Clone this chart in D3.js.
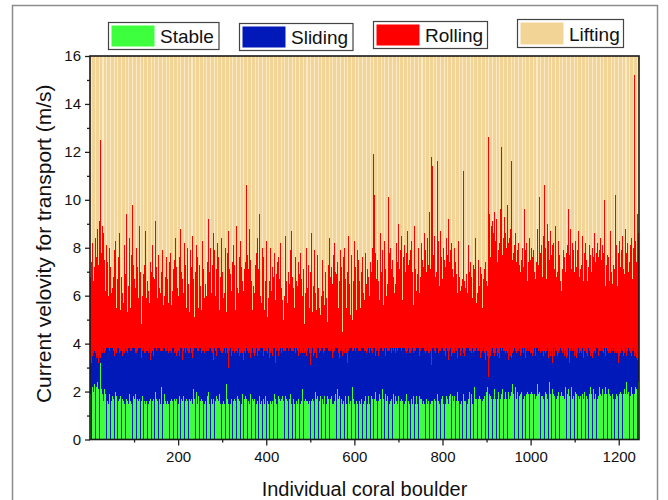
<!DOCTYPE html>
<html><head><meta charset="utf-8">
<script src="https://cdn.jsdelivr.net/npm/d3@7"></script>
<style>body{margin:0;background:#fff}svg{display:block}</style>
</head><body>
<svg id="chart" width="668" height="500"></svg>
<script>
// ---------------- DATA ----------------
const seriesNames = ["Stable", "Sliding", "Rolling", "Lifting"];
const xDomain = [0, 1246];
const yMax = 16;                 // lifting range runs to the top of the axis
const xTickValues = [200, 400, 600, 800, 1000, 1200];
const xMinorTicks = [100, 300, 500, 700, 900, 1100];
const yTickValues = [0, 2, 4, 6, 8, 10, 12, 14, 16];
const yMinorTicks = [1, 3, 5, 7, 9, 11, 13, 15];

// upper velocity limit of the "Rolling" band per boulder (m/s)
const rollingTop = [
6.8,5.9,7.4,6.1,8.2,5.4,7.9,6.6,10.5,7.2,6.3,8.4,5.8,10.4,7.6,6.9,8.8,11.0,7.3,6.2,9.1,7.7,8.3,12.5,6.5,
7.8,6.4,8.9,7.1,5.9,8.6,6.8,7.5,9.0,6.2,7.0,5.6,8.1,6.7,7.4,9.2,6.0,7.7,5.3,8.0,6.6,7.2,11.0,6.1,5.7,
6.3,7.0,5.1,6.8,7.9,5.8,6.4,8.3,6.0,5.5,7.3,6.7,4.9,6.2,7.6,5.9,8.6,6.5,5.4,7.1,6.8,5.2,7.4,6.1,6.9,
5.7,7.2,6.3,8.1,5.6,6.9,7.5,9.4,6.0,5.3,7.8,6.4,5.9,8.4,6.6,7.0,5.5,6.2,7.7,6.8,9.8,5.8,6.5,7.3,5.1,
6.7,7.9,5.6,6.3,8.0,6.1,5.4,7.2,6.8,5.9,7.6,8.9,6.2,5.7,7.0,6.5,4.8,7.4,6.0,8.2,5.8,6.9,7.3,5.5,6.4,
8.7,6.1,5.9,7.1,6.6,5.3,7.8,6.2,8.5,5.7,6.9,7.4,5.0,6.3,7.0,6.0,8.1,5.6,6.8,7.5,5.4,6.7,9.1,6.2,5.8,
7.2,6.4,5.9,9.6,6.9,7.7,5.5,6.3,8.0,6.1,5.2,7.0,6.6,5.8,7.9,6.4,5.6,8.3,6.0,7.3,5.9,6.8,5.4,7.6,6.2,
6.7,8.6,5.7,6.1,7.4,5.3,6.9,7.8,6.4,5.6,8.1,6.2,5.8,7.1,6.5,4.9,7.5,6.0,8.4,5.5,6.8,7.2,6.3,5.7,7.9,
6.0,5.4,7.6,6.6,8.8,5.9,6.3,7.0,5.2,6.7,7.7,6.1,5.6,8.2,6.4,5.8,7.3,6.9,5.5,7.1,6.2,8.0,5.7,6.5,7.4,
5.3,6.8,7.9,6.0,5.6,7.2,6.4,8.5,5.9,6.7,7.5,5.1,6.3,7.0,6.1,8.1,5.7,6.9,7.6,6.2,5.5,10.6,6.6,7.3,5.8,
6.4,7.8,5.4,6.1,8.3,6.9,5.7,7.1,6.3,5.9,7.7,6.5,8.8,5.6,6.0,7.4,6.8,5.3,9.2,6.2,7.0,5.8,8.0,6.6,7.5,
6.1,5.5,7.3,6.7,8.6,5.9,6.4,7.9,9.8,6.0,5.2,7.1,6.6,8.2,5.7,6.9,7.6,6.2,5.4,7.4,6.8,5.8,8.4,6.3,7.0,
6.5,10.6,5.9,7.2,6.1,5.6,8.0,6.7,7.5,5.3,6.3,7.8,6.0,5.8,8.7,6.6,7.1,5.5,6.9,7.7,6.2,5.1,7.4,6.4,8.1,
5.7,6.8,7.3,6.0,5.4,7.9,6.5,8.9,5.8,6.3,7.0,6.1,5.6,7.6,6.7,8.3,5.9,6.4,7.2,5.2,6.6,7.8,6.2,5.5,7.1,
6.9,5.8,7.4,6.3,10.6,6.0,7.7,5.6,6.5,7.1,5.3,8.8,6.8,6.2,7.5,5.9,6.6,8.2,5.4,7.0,6.4,7.9,5.7,6.1,7.3,
6.7,5.5,7.8,6.2,8.4,5.9,7.1,6.5,5.2,9.4,6.8,6.0,7.4,5.7,6.3,8.0,5.6,6.9,7.6,6.1,5.4,7.2,6.6,5.8,8.3,
5.6,6.4,5.1,7.0,5.9,4.4,6.6,5.4,7.5,8.0,5.7,6.2,4.9,7.2,5.5,6.8,5.3,6.0,7.8,9.4,5.8,6.5,5.0,6.9,7.4,
5.2,6.1,7.6,5.6,6.7,4.7,5.9,8.2,6.3,5.4,7.1,5.8,6.4,5.0,7.7,6.0,5.5,6.8,8.5,5.3,6.6,7.3,5.7,4.5,6.2,
7.0,5.6,6.5,5.1,7.9,6.1,5.4,8.7,6.8,5.8,4.3,6.3,7.2,5.5,6.0,7.6,5.2,6.6,5.9,9.8,6.4,5.7,7.4,5.0,6.9,
5.3,7.8,6.2,5.6,6.7,8.3,5.1,6.0,7.1,5.7,6.5,4.8,7.5,6.1,5.4,6.9,8.0,5.8,6.3,5.2,7.3,6.6,5.5,4.6,7.0,
6.2,5.7,8.6,6.0,5.3,7.2,6.4,5.0,6.8,7.9,5.6,6.1,7.4,5.4,6.6,4.4,7.7,5.9,6.3,8.1,5.5,6.9,5.2,7.1,6.0,
5.8,7.5,6.5,5.1,6.2,8.8,5.6,6.7,7.0,5.4,6.3,5.9,7.8,4.9,6.6,7.3,5.7,6.1,8.4,5.5,6.8,5.0,7.2,6.4,5.9,
6.5,7.7,5.3,6.0,8.2,5.6,7.0,6.3,5.2,6.9,5.8,7.4,6.1,5.5,10.0,6.6,5.1,7.9,6.2,5.7,7.2,6.4,4.5,6.8,7.6,
5.4,6.1,8.0,5.9,6.7,7.3,5.5,6.3,4.9,7.0,6.0,8.5,5.6,6.5,7.1,5.2,6.9,7.7,5.8,6.2,5.0,7.4,6.6,5.3,8.3,
6.4,5.7,7.2,6.0,5.4,6.8,7.9,5.1,6.3,7.5,5.9,6.6,8.1,5.5,6.2,7.0,4.6,6.7,7.6,5.6,6.1,7.3,5.8,6.9,5.2,
7.8,6.5,5.7,6.2,7.1,5.4,6.8,8.4,6.0,5.9,7.4,6.3,5.5,7.0,6.6,8.0,7.3,11.9,7.6,8.3,10.2,6.9,7.8,7.2,6.7,
6.4,7.5,6.9,8.1,6.6,7.2,5.8,7.7,6.5,8.6,6.8,7.0,6.2,7.9,6.7,5.6,7.4,8.3,6.3,7.1,6.9,7.6,6.0,8.8,6.5,
7.3,10.1,6.7,6.2,7.8,6.9,8.0,6.4,7.1,5.9,7.5,6.6,8.4,6.8,7.2,6.1,7.7,6.5,5.5,7.0,8.2,6.7,7.4,6.3,9.0,
6.8,7.1,6.4,7.9,6.0,7.4,8.5,6.6,5.8,7.2,6.9,7.6,6.2,8.1,6.5,7.0,5.7,7.8,6.7,6.3,8.7,6.9,7.3,6.1,7.5,
6.6,7.9,6.3,7.2,8.3,6.0,7.0,6.8,5.6,7.6,6.4,8.9,7.1,6.5,7.3,6.2,7.8,5.9,6.9,8.0,7.4,6.7,6.1,7.7,6.8,
7.1,6.5,8.2,6.9,7.5,6.3,7.2,5.8,8.6,6.7,7.9,6.4,7.0,6.1,7.6,8.4,6.8,7.3,6.0,9.5,6.6,7.8,7.1,8.8,11.8,
7.4,8.1,11.4,6.9,7.7,6.5,8.5,7.2,6.8,7.9,6.2,7.0,11.6,7.5,6.6,8.3,7.1,6.4,7.8,6.9,8.7,6.3,7.6,7.0,6.7,
7.3,8.0,6.8,7.5,6.1,10.6,7.2,6.6,8.4,7.0,6.5,7.7,6.2,9.2,6.9,7.4,6.0,7.9,6.7,8.2,6.4,7.1,5.9,7.6,6.8,
7.2,6.6,8.0,6.3,7.4,5.8,6.9,7.7,6.1,7.0,6.5,8.3,6.8,5.7,7.3,6.2,7.5,6.4,7.1,5.9,6.7,11.2,6.0,7.8,6.6,
11.1,6.3,7.2,5.6,6.9,7.6,6.1,6.7,8.1,5.8,7.0,6.4,5.5,7.4,6.2,6.8,7.9,5.9,6.5,7.3,6.0,5.4,7.1,6.6,8.4,
6.3,5.7,7.0,6.1,5.2,6.8,7.5,5.9,6.4,4.8,7.2,6.0,5.6,6.9,7.8,5.5,6.2,6.7,5.0,7.1,6.5,5.8,7.4,6.1,6.6,
7.0,6.4,8.2,12.6,10.5,8.8,9.4,8.1,7.6,12.2,8.9,7.8,8.4,9.1,7.5,8.6,8.0,9.5,7.9,8.3,7.7,8.7,9.2,8.1,7.4,
8.5,7.9,9.0,8.2,7.6,8.8,9.6,8.3,12.2,8.0,7.7,8.9,8.4,7.5,9.3,8.1,7.8,8.6,11.9,8.0,7.4,8.7,9.8,7.9,8.2,
7.6,8.4,8.0,7.3,8.8,11.6,7.9,8.3,7.5,9.1,7.8,10.2,8.1,7.2,8.6,7.7,8.0,7.4,9.4,7.9,7.1,8.2,7.6,8.5,7.3,
7.8,7.0,8.3,7.5,6.9,8.0,7.4,8.7,7.2,7.7,9.6,7.1,7.9,6.8,8.2,7.3,7.6,6.6,8.1,7.4,6.9,7.8,8.4,7.0,7.5,
7.2,8.0,12.5,7.6,6.8,7.9,7.3,8.6,7.0,7.5,6.7,8.2,7.4,7.1,8.8,7.7,6.9,7.3,8.4,10.1,7.0,7.8,6.6,7.5,8.1,
7.4,6.8,7.9,8.5,7.1,10.6,7.6,6.9,8.0,7.3,6.7,7.8,9.0,7.2,6.5,8.3,7.0,7.5,6.8,8.7,7.3,6.6,7.7,8.1,6.9,
7.5,8.2,6.7,7.1,7.8,6.4,8.9,7.2,6.8,7.6,7.0,6.5,8.3,7.4,6.9,7.7,8.6,6.6,7.3,6.2,8.0,7.1,6.8,7.9,7.4,
6.7,7.6,8.4,7.0,6.5,7.8,6.9,7.3,8.1,6.6,9.6,7.2,6.8,7.7,8.8,6.4,7.5,7.1,6.9,8.2,7.3,6.6,7.9,7.0,6.8,
7.6,8.3,6.9,7.2,6.4,7.9,7.0,8.7,6.7,7.4,6.8,7.7,7.1,8.0,6.5,7.3,6.9,8.5,7.6,6.6,7.1,7.8,6.3,8.2,7.0,
6.8,7.5,7.9,6.6,9.5,7.2,6.9,8.1,7.4,6.5,7.7,8.4,7.0,6.7,7.3,8.0,6.4,7.6,7.1,8.6,6.9,7.4,6.2,7.8,7.0,
7.3,8.2,6.7,7.6,7.0,6.5,7.9,8.4,6.8,7.2,7.5,6.9,8.1,7.4,6.6,7.8,7.1,10.0,7.0,6.4,8.3,7.3,6.8,7.7,7.1,
6.9,7.6,8.0,6.6,7.4,7.2,8.7,6.8,7.0,7.5,6.5,7.9,7.3,8.2,6.7,7.1,10.2,7.4,6.9,8.1,7.6,6.4,7.2,7.8,6.9,
7.5,8.3,6.8,7.2,6.6,7.9,7.0,8.5,6.7,7.4,7.1,8.0,6.9,7.6,8.8,6.5,7.3,7.8,6.9,8.2,9.1,7.0,7.6,6.8,7.4,
8.1,6.9,7.5,8.4,7.2,6.7,7.8,8.0,7.1,6.8,15.2,7.6,8.3,7.0,7.4,6.6,7.9,9.4,7.3,8.6
];

// upper velocity limit of the "Sliding" band per boulder (m/s)
const slidingTop = [
3.3,3.5,3.2,3.6,3.4,3.5,3.1,3.6,3.4,3.7,3.5,3.3,3.6,3.7,3.4,3.6,3.5,3.7,3.2,3.6,3.8,3.5,3.7,3.4,3.6,
3.7,3.8,3.6,3.7,3.5,3.8,3.7,3.6,3.8,3.7,3.4,3.8,3.7,3.6,3.8,3.7,3.8,3.5,3.7,3.8,3.6,3.8,3.7,3.8,3.7,
3.8,3.6,3.7,3.8,3.7,3.5,3.8,3.7,3.8,3.6,3.7,3.8,3.3,3.7,3.8,3.7,3.6,3.8,3.7,3.8,3.6,3.7,3.8,3.5,3.7,
3.7,3.8,3.6,3.8,3.7,3.8,3.4,3.7,3.8,3.6,3.7,3.8,3.7,3.6,3.8,3.5,3.7,3.8,3.7,3.6,3.8,3.7,3.2,3.8,3.7,
3.8,3.7,3.6,3.8,3.7,3.6,3.8,3.7,3.5,3.8,3.7,3.8,3.6,3.7,3.8,3.7,3.4,3.8,3.7,3.6,3.8,3.7,3.8,3.6,3.7,
3.6,3.8,3.7,3.8,3.5,3.7,3.8,3.6,3.7,3.8,3.7,3.3,3.8,3.7,3.6,3.8,3.7,3.8,3.5,3.7,3.8,3.6,3.7,3.8,3.7,
3.7,3.6,3.8,3.7,3.8,3.4,3.7,3.8,3.6,3.7,3.8,3.7,3.5,3.8,3.7,3.6,3.8,3.7,3.8,3.6,3.7,3.8,3.1,3.7,3.8,
3.8,3.7,3.6,3.8,3.7,3.8,3.5,3.7,3.8,3.6,3.7,3.8,3.7,3.4,3.8,3.7,3.6,3.8,3.7,3.8,3.5,3.7,3.8,3.6,3.7,
3.7,3.8,3.5,3.7,3.8,3.6,3.7,3.8,3.7,3.3,3.8,3.7,3.6,3.8,3.7,3.8,3.6,3.7,3.8,3.5,3.7,3.8,3.7,3.6,3.8,
3.6,3.7,3.8,3.7,3.6,3.8,3.7,3.4,3.8,3.7,3.6,3.8,3.7,3.8,3.5,3.7,3.8,3.6,3.7,3.8,3.7,3.2,3.8,3.7,3.6,
3.8,3.7,3.6,3.8,3.7,3.5,3.8,3.7,3.8,3.6,3.7,3.8,3.4,3.7,3.8,3.6,3.7,3.8,3.7,3.5,3.8,3.7,3.6,3.8,3.7,
3.7,3.8,3.6,3.7,3.3,3.8,3.7,3.8,3.6,3.7,3.8,3.5,3.7,3.8,3.7,3.6,3.8,3.7,3.8,3.4,3.7,3.8,3.6,3.7,3.8,
3.6,3.8,3.7,3.5,3.8,3.7,3.8,3.6,3.7,3.8,3.7,3.6,3.8,3.0,3.7,3.8,3.7,3.6,3.8,3.7,3.5,3.8,3.7,3.8,3.6,
3.8,3.7,3.6,3.8,3.7,3.8,3.4,3.7,3.8,3.6,3.7,3.8,3.7,3.5,3.8,3.7,3.6,3.8,3.7,3.8,3.6,3.7,3.3,3.8,3.7,
3.7,3.8,3.6,3.7,3.8,3.5,3.7,3.8,3.7,3.6,3.8,3.7,3.8,3.4,3.7,3.8,3.6,3.7,3.8,3.7,3.6,3.8,3.5,3.7,3.8,
3.6,3.7,3.8,3.7,3.5,3.8,3.7,3.6,3.8,3.7,3.3,3.8,3.7,3.8,3.6,3.7,3.8,3.7,3.5,3.8,3.7,3.6,3.8,3.7,3.8,
3.7,3.8,3.6,3.7,3.8,3.7,3.4,3.8,3.7,3.6,3.8,3.7,3.8,3.5,3.7,3.8,3.6,3.7,3.8,3.7,3.2,3.8,3.7,3.6,3.8,
3.8,3.7,3.5,3.8,3.7,3.6,3.8,3.7,3.8,3.6,3.7,3.8,3.4,3.7,3.8,3.7,3.6,3.8,3.7,3.5,3.8,3.7,3.8,3.6,3.7,
3.7,3.6,3.8,3.7,3.8,3.5,3.7,3.8,3.6,3.7,3.8,3.7,3.3,3.8,3.7,3.6,3.8,3.7,3.8,3.6,3.7,3.8,3.5,3.7,3.8,
3.8,3.7,3.6,3.8,3.7,3.8,3.6,3.7,3.4,3.8,3.7,3.6,3.8,3.7,3.8,3.5,3.7,3.8,3.7,3.6,3.8,3.7,3.6,3.8,3.1,
3.7,3.8,3.6,3.7,3.8,3.7,3.5,3.8,3.7,3.6,3.8,3.7,3.8,3.4,3.7,3.8,3.6,3.7,3.8,3.7,3.6,3.8,3.7,3.5,3.8,
3.6,3.7,3.8,3.7,3.6,3.8,3.7,3.3,3.8,3.7,3.6,3.8,3.7,3.8,3.5,3.7,3.8,3.6,3.7,3.8,3.7,3.6,3.8,3.7,3.4,
3.8,3.7,3.6,3.8,3.7,3.5,3.8,3.7,3.8,3.6,3.7,3.8,3.7,3.6,3.8,3.4,3.7,3.8,3.7,3.6,3.8,3.7,3.5,3.8,3.7,
3.7,3.8,3.6,3.7,3.8,3.7,3.6,3.8,3.2,3.7,3.8,3.7,3.6,3.8,3.7,3.8,3.5,3.7,3.8,3.6,3.7,3.8,3.7,3.6,3.8,
3.6,3.8,3.7,3.5,3.8,3.7,3.8,3.6,3.7,3.8,3.4,3.7,3.8,3.7,3.6,3.8,3.7,3.8,3.5,3.7,3.8,3.6,3.7,3.8,3.7,
3.8,3.7,3.6,3.8,3.7,3.5,3.8,3.7,3.6,3.8,3.7,3.8,3.4,3.7,3.8,3.6,3.7,3.8,3.7,3.6,3.8,3.7,3.5,3.8,3.7,
3.7,3.6,3.8,3.7,3.5,3.8,3.7,3.6,3.8,3.7,3.6,3.8,3.3,3.7,3.8,3.7,3.6,3.8,3.7,3.8,3.5,3.7,3.8,3.6,3.7,
3.8,3.7,3.6,3.8,3.7,3.4,3.8,3.7,3.6,3.8,3.7,3.8,3.6,3.7,3.5,3.8,3.7,3.6,3.8,3.7,3.8,3.6,3.7,3.2,3.8,
3.7,3.8,3.6,3.7,3.8,3.6,3.7,3.5,3.8,3.7,3.8,3.6,3.7,3.8,3.4,3.7,3.8,3.6,3.7,3.8,3.7,3.5,3.8,3.7,3.6,
3.8,3.6,3.7,3.8,3.7,3.5,3.8,3.7,3.6,3.8,3.7,3.3,3.8,3.7,3.6,3.8,3.7,3.8,3.6,3.7,3.8,3.7,3.5,3.8,3.7,
3.6,3.8,3.7,3.6,3.8,3.7,3.8,3.4,3.7,3.8,3.6,3.7,3.8,3.7,3.5,3.8,3.7,3.6,3.8,3.7,3.6,3.8,3.7,3.8,3.1,
3.7,3.8,3.6,3.7,3.8,3.5,3.7,3.8,3.6,3.7,3.8,3.7,3.4,3.8,3.7,3.6,3.8,3.7,3.8,3.6,3.7,3.5,3.8,3.7,3.8,
3.8,3.7,3.6,3.8,3.7,3.8,3.5,3.7,3.8,3.6,3.7,3.8,3.7,3.3,3.8,3.7,3.6,3.8,3.7,3.5,3.8,3.7,3.6,3.8,3.7,
3.7,3.6,3.8,3.7,3.8,3.6,3.7,3.8,3.4,3.7,3.8,3.6,3.7,3.8,3.7,3.5,3.8,3.7,3.6,3.8,3.7,3.8,3.6,3.7,3.5,
3.8,3.7,3.6,3.8,3.7,3.5,3.8,3.7,3.8,3.6,3.7,3.8,3.3,3.7,3.8,3.6,3.7,3.8,3.7,3.6,3.8,3.4,3.7,3.8,3.7,
3.7,3.8,3.6,3.7,3.5,3.8,3.7,3.6,3.8,3.7,3.4,3.8,3.7,3.6,3.8,3.7,3.5,3.8,3.7,3.6,3.8,3.7,3.3,3.6,3.7,
3.6,3.5,3.7,2.6,3.1,3.6,3.4,3.7,3.5,3.3,3.7,3.6,3.8,3.4,3.7,3.6,3.8,3.5,3.7,3.6,3.3,3.7,3.8,3.6,3.5,
3.7,3.6,3.8,3.4,3.7,3.5,3.8,3.6,3.7,3.2,3.8,3.6,3.7,3.5,3.8,3.7,3.4,3.6,3.8,3.7,3.5,3.7,3.6,3.8,3.3,
3.6,3.8,3.7,3.5,3.6,3.8,3.4,3.7,3.6,3.8,3.7,3.5,3.8,3.6,3.1,3.7,3.8,3.6,3.5,3.7,3.8,3.6,3.7,3.4,3.8,
3.7,3.5,3.8,3.6,3.7,3.3,3.8,3.7,3.6,3.5,3.8,3.7,3.4,3.6,3.8,3.7,3.6,3.8,3.5,3.7,3.6,3.2,3.8,3.7,3.6,
3.8,3.6,3.7,3.5,3.8,3.7,3.6,3.4,3.8,3.7,3.5,3.6,3.8,3.7,3.3,3.8,3.6,3.7,3.5,3.8,3.7,3.6,3.4,3.8,3.7,
3.6,3.7,3.8,3.5,3.6,3.8,3.7,3.3,3.6,3.8,3.7,3.5,3.8,3.6,3.7,3.4,3.8,3.7,3.6,3.5,3.8,3.7,3.6,3.8,3.2,
3.7,3.8,3.6,3.5,3.7,3.8,3.4,3.6,3.7,3.8,3.5,3.7,3.6,3.8,3.3,3.7,3.6,3.8,3.5,3.7,3.8,3.6,3.4,3.7,3.8,
3.6,3.5,3.8,3.7,3.6,3.4,3.8,3.7,3.5,3.6,3.8,3.7,3.2,3.6,3.8,3.7,3.5,3.8,3.6,3.7,3.3,3.8,3.7,3.6,3.5,
3.8,3.7,3.6,3.4,3.8,3.6,3.7,3.5,3.8,3.7,3.6,3.3,3.7,3.8,3.6,3.5,3.7,3.8,3.6,3.4,3.8,3.7,3.5,3.6,3.8,
3.7,3.6,3.8,3.5,3.7,3.8,3.3,3.6,3.7,3.8,3.5,3.7,3.6,3.8,3.4,3.7,3.8,3.6,3.5,3.7,3.8,3.6,3.1,3.7,3.8,
3.6,3.8,3.7,3.5,3.6,3.7,3.8,3.4,3.7,3.6,3.8,3.5,3.7,3.8,3.6,3.3,3.7,3.8,3.6,3.5,3.7,3.8,3.6,3.4,3.7,
3.8,3.6,3.5,3.7,3.8,3.6,3.7,3.3,3.8,3.6,3.7,3.5,3.8,3.7,3.6,3.4,3.8,3.7,3.5,3.6,3.8,3.7,3.6,3.2,3.8,
3.7,3.5,3.8,3.6,3.7,3.8,3.4,3.6,3.7,3.8,3.5,3.7,3.6,3.3,3.8,3.7,3.6,3.5,3.8,3.7,3.6,3.8,3.4,3.7,3.6,
3.8,3.6,3.7,3.5,3.8,3.7,3.3,3.6,3.8,3.7,3.5,3.7,3.6,3.8,3.4,3.7,3.5,3.3,3.6,3.4
];

// upper velocity limit of the "Stable" band per boulder (m/s)
const stableTop = [
1.9,2.1,1.8,2.0,1.7,2.2,1.9,2.0,1.8,2.3,2.0,1.9,2.1,1.8,2.2,2.0,2.4,2.6,2.1,2.3,2.5,2.2,2.8,3.2,2.7,
2.1,1.8,1.9,1.7,2.0,1.6,1.8,2.1,1.7,1.9,1.6,1.8,1.7,2.0,1.6,1.8,1.5,1.7,1.9,1.6,1.8,1.7,2.2,1.6,1.7,
1.8,1.6,1.7,1.9,1.5,1.7,1.6,2.0,1.7,1.8,1.6,1.5,1.9,1.7,1.6,2.1,1.7,1.6,1.8,1.5,1.7,1.9,1.6,1.7,1.8,
1.6,1.7,1.5,1.9,1.7,1.6,1.8,1.7,2.2,1.6,1.7,1.5,1.8,1.6,1.9,1.7,1.6,1.8,1.5,1.7,2.0,1.6,1.7,1.8,1.6,
1.7,1.6,1.9,1.5,1.7,1.8,1.6,1.7,2.0,1.6,1.5,1.7,1.8,1.6,2.3,1.7,1.6,1.5,1.8,1.7,1.6,1.9,1.7,1.6,1.8,
1.5,1.7,1.6,1.8,1.9,1.6,1.7,1.5,1.8,1.6,2.1,1.7,1.6,1.8,1.5,1.7,1.6,1.9,1.7,1.6,1.8,1.5,1.7,2.0,1.6,
1.7,1.8,1.6,1.5,1.7,1.9,1.6,1.7,1.8,1.5,1.6,2.2,1.7,1.6,1.8,1.7,1.5,1.6,1.9,1.7,1.6,1.8,1.7,1.5,2.0,
1.6,1.7,1.5,1.8,1.6,1.7,2.1,1.6,1.5,1.7,1.8,1.6,1.7,1.9,1.5,1.6,1.7,1.8,1.6,2.0,1.7,1.5,1.6,1.8,1.7,
1.5,1.6,1.8,1.7,1.9,1.6,1.5,1.7,2.2,1.6,1.7,1.8,1.5,1.6,1.7,2.0,1.6,1.8,1.7,1.5,1.6,1.9,1.7,1.6,1.8,
1.7,1.5,1.6,1.9,1.7,1.6,1.8,1.5,1.7,2.1,1.6,1.7,1.5,1.8,1.6,1.7,2.0,1.6,1.5,1.7,1.8,1.6,1.9,1.7,1.5,
1.6,1.8,1.7,1.5,1.6,2.2,1.7,1.6,1.8,1.5,1.7,1.6,1.9,1.7,1.5,1.6,1.8,1.7,2.0,1.6,1.5,1.7,1.6,1.8,1.9,
1.7,1.6,1.5,1.8,1.7,1.6,1.9,1.5,1.7,1.6,2.1,1.8,1.6,1.7,1.5,1.8,1.6,1.7,1.9,1.6,1.5,1.7,2.0,1.6,1.7,
1.5,1.7,1.6,1.9,1.5,1.6,1.8,1.7,1.5,2.3,1.6,1.7,1.8,1.5,1.6,1.7,1.9,1.6,1.5,1.8,1.7,1.6,1.5,2.0,1.7,
1.6,1.5,1.7,1.8,1.6,1.9,1.5,1.7,1.6,1.8,1.5,1.7,2.1,1.6,1.5,1.7,1.6,1.8,1.5,1.7,1.9,1.6,1.7,1.5,1.8,
1.7,1.6,1.8,1.5,1.7,1.6,2.0,1.5,1.7,1.6,1.8,1.5,1.6,1.9,1.7,1.5,1.6,2.2,1.7,1.5,1.6,1.8,1.7,1.6,1.5,
1.6,1.8,1.5,1.7,1.6,1.9,1.7,1.5,1.6,1.8,1.7,1.5,2.0,1.6,1.7,1.5,1.8,1.6,1.7,1.9,1.5,1.6,1.8,1.7,1.5,
1.5,1.7,1.6,1.8,1.5,1.6,1.9,1.7,1.5,1.6,2.1,1.5,1.7,1.6,1.8,1.5,1.6,1.7,1.9,1.5,1.7,1.6,1.5,1.8,1.6,
1.6,1.5,1.8,1.6,1.7,1.5,1.6,2.0,1.5,1.7,1.6,1.8,1.5,1.6,1.7,1.9,1.5,1.6,1.8,1.5,1.7,2.2,1.6,1.5,1.7,
1.5,1.6,1.7,1.5,1.9,1.6,1.5,1.7,1.8,1.5,1.6,1.7,2.0,1.5,1.6,1.8,1.5,1.7,1.6,1.9,1.5,1.6,1.7,1.5,1.8,
1.6,1.7,1.5,1.8,1.6,1.5,2.1,1.6,1.7,1.5,1.8,1.6,1.5,1.7,1.9,1.6,1.5,1.8,1.6,1.7,1.5,1.9,1.6,1.5,1.7,
1.5,1.8,1.6,1.5,1.7,1.9,1.6,1.5,1.7,1.6,1.5,2.0,1.6,1.7,1.5,1.8,1.6,1.5,1.7,2.2,1.6,1.5,1.8,1.6,1.7,
1.6,1.5,1.7,1.9,1.5,1.6,1.8,1.5,1.7,1.6,2.0,1.5,1.6,1.8,1.5,1.7,1.6,1.9,1.5,1.6,1.7,1.5,1.8,1.6,1.5,
1.7,1.6,1.5,1.8,1.6,1.5,1.9,1.6,1.7,1.5,1.6,2.1,1.5,1.7,1.6,1.8,1.5,1.6,1.9,1.5,1.7,1.6,1.5,2.0,1.6,
1.5,1.7,1.6,1.5,1.8,1.6,1.5,2.0,1.6,1.7,1.5,1.8,1.6,1.5,1.9,1.6,1.7,1.5,1.8,1.6,2.2,1.5,1.7,1.6,1.5,
1.6,1.8,1.5,1.7,1.6,1.9,1.5,1.6,1.8,1.5,1.7,1.6,2.0,1.5,1.6,1.7,1.5,1.8,1.6,1.9,1.5,1.7,1.6,1.5,1.8,
1.7,1.5,1.6,1.9,1.5,1.6,1.8,1.6,1.5,1.7,2.1,1.6,1.5,1.8,1.6,1.7,1.9,1.6,1.8,1.5,1.7,1.6,2.0,1.7,1.6,
1.6,1.7,1.5,1.8,1.6,1.5,1.9,1.6,1.7,1.5,1.8,1.6,1.5,2.1,1.6,1.7,1.5,1.8,1.6,1.5,1.9,1.7,1.6,1.5,1.8,
1.5,1.6,1.8,1.7,1.5,2.0,1.6,1.5,1.7,1.6,1.8,1.5,1.6,1.9,1.7,1.5,1.6,1.8,1.5,2.2,1.6,1.7,1.5,1.6,1.8,
1.7,1.5,1.6,1.9,1.6,1.5,1.7,1.8,1.6,1.5,2.0,1.6,1.7,1.5,1.8,1.6,1.5,1.9,1.7,1.6,1.5,1.8,1.6,2.1,1.5,
1.6,1.8,1.5,1.6,1.7,1.9,1.5,1.6,1.8,1.7,1.5,1.6,2.0,1.5,1.7,1.8,1.6,1.5,1.7,1.9,1.6,1.5,1.8,1.6,1.7,
1.5,1.7,1.9,1.6,1.5,1.8,1.6,1.7,1.5,2.1,1.6,1.5,1.8,1.7,1.6,1.5,1.9,1.6,1.7,1.5,1.8,1.6,1.5,2.0,1.6,
1.7,1.6,1.5,1.8,1.6,1.5,1.7,2.0,1.6,1.5,1.8,1.7,1.6,1.9,1.5,1.6,1.7,1.5,1.8,1.6,2.2,1.5,1.7,1.6,1.8,
1.6,1.5,1.8,1.6,1.9,1.7,1.5,1.6,1.8,1.5,1.7,2.1,1.6,1.5,1.7,1.8,1.6,1.9,1.5,1.7,1.6,1.5,1.8,1.7,1.6,
1.5,1.8,1.6,1.7,1.5,1.9,1.6,1.5,2.0,1.7,1.6,1.5,1.8,1.6,1.7,1.5,2.1,1.6,1.8,1.5,1.7,1.6,1.9,1.5,1.6,
1.8,1.6,1.5,1.7,1.9,1.6,1.5,1.8,1.7,1.6,2.0,1.5,1.7,1.6,1.8,1.9,1.6,1.5,1.7,1.6,1.8,1.5,2.2,1.6,1.7,
1.6,1.7,1.8,1.5,1.6,1.9,1.7,1.6,1.8,1.5,1.7,2.0,1.6,1.8,1.7,1.6,1.9,1.7,2.1,1.8,1.7,1.9,1.6,1.8,2.0,
2.0,2.2,2.5,3.0,2.6,2.1,1.9,2.3,1.8,2.0,1.7,1.9,2.2,1.8,2.0,1.7,1.9,2.1,1.8,1.7,2.0,1.8,2.3,1.9,1.7,
1.8,2.0,1.7,1.9,2.2,1.8,1.7,2.0,1.9,1.8,2.1,1.7,1.9,1.8,2.4,1.7,1.9,2.0,1.8,1.7,1.9,2.2,1.8,1.7,2.0,
1.9,1.7,2.1,1.8,1.9,1.7,2.0,1.8,2.3,1.7,1.9,1.8,2.0,1.7,1.9,2.2,1.8,1.7,1.9,2.0,1.8,1.7,2.1,1.9,1.8,
1.7,1.9,1.8,2.0,1.7,2.2,1.9,1.8,1.7,2.0,1.8,1.9,1.7,2.4,1.8,1.9,1.7,2.0,1.8,1.9,2.1,1.7,1.8,2.0,1.9,
1.8,2.0,1.7,1.9,2.1,1.8,1.7,2.2,1.9,1.8,1.7,2.0,1.8,1.9,1.7,2.3,1.8,1.9,1.7,2.0,1.8,1.9,2.1,1.7,1.8,
2.0,1.8,1.9,1.7,2.2,1.9,1.8,1.7,2.0,1.8,1.9,2.1,1.7,1.8,2.0,1.9,1.7,2.4,1.8,1.9,1.7,2.0,1.8,1.9,2.1,
1.7,1.9,2.0,1.8,1.7,2.1,1.8,1.9,1.7,2.2,1.8,1.9,2.0,1.7,1.8,1.9,2.3,1.8,1.7,2.0,1.9,1.8,1.7,2.1,1.8,
1.9,1.7,1.8,2.2,1.9,1.8,2.0,1.7,1.9,1.8,2.1,1.7,1.8,2.0,1.9,1.7,1.8,2.2,1.9,1.7,2.0,1.8,1.9,1.7,2.3,
1.8,2.0,1.7,1.9,1.8,2.1,1.9,1.7,1.8,2.0,1.7,2.2,1.8,1.9,1.7,2.0,1.8,1.9,2.4,1.7,1.8,2.0,1.9,1.8,1.7,
2.0,1.8,1.9,1.7,2.1,1.8,1.7,2.0,1.9,1.8,2.2,1.7,1.9,1.8,2.0,1.7,1.9,2.1,1.8,1.7,2.0,1.9,1.8,2.3,1.7,
1.9,1.7,2.0,1.8,1.9,2.2,1.8,1.7,1.9,2.0,1.8,1.7,2.1,1.9,1.8,2.0,1.7,1.9,1.8,2.2,1.7,1.9,2.0,1.8,1.9,
1.8,2.1,1.7,1.9,2.0,1.8,1.9,1.7,2.3,1.8,1.9,2.0,1.7,1.8,2.1,1.9,1.8,1.7,2.0,1.9,2.2,1.8,1.7,1.9,2.0,
1.7,1.9,1.8,2.0,1.7,1.9,2.2,1.8,1.7,2.0,1.9,1.8,2.1,1.7,1.9,1.8,2.0,2.4,1.8,1.9,1.7,2.0,1.8,2.1,1.9,
2.0,1.8,1.9,2.2,1.8,1.9,2.1,1.8,2.0,2.3,1.9,2.0,2.2,1.9,2.1,2.0,2.3,2.1,2.2,2.4
];

// ---------------- STYLE / LAYOUT ----------------
const seriesColors = ["#3dff3d", "#0019b8", "#ff0000", "#f2d596"];
const plotBg = "#f9e9c6";
const font = "'Liberation Sans', Arial, Helvetica, sans-serif";
const plot = {left: 90, right: 639, top: 56, bottom: 439.5};
const legendBoxes = [
  {x: 108.5, y: 22.5, w: 110.5, h: 27},
  {x: 239.5, y: 23.5, w: 113.5, h: 27},
  {x: 373.5, y: 21.5, w: 114, h: 27},
  {x: 517.5, y: 19.5, w: 106, h: 28}
];

const svg = d3.select("#chart");
svg.append("rect").attr("width", 668).attr("height", 500).attr("fill", "#fff");
// figure frame
svg.append("rect").attr("x", 12.5).attr("y", 5.5).attr("width", 645).attr("height", 560)
  .attr("fill", "none").attr("stroke", "#8c8c8c").attr("stroke-width", 1.5);

const x = d3.scaleLinear().domain(xDomain).range([plot.left, plot.right]);
const y = d3.scaleLinear().domain([0, yMax]).range([plot.bottom, plot.top]);

const n = Math.min(stableTop.length, slidingTop.length, rollingTop.length);
const boulders = d3.range(1, n + 1);
const step = x(1) - x(0);

svg.append("rect").attr("x", plot.left).attr("y", plot.top)
  .attr("width", plot.right - plot.left).attr("height", plot.bottom - plot.top)
  .attr("fill", plotBg);

svg.append("clipPath").attr("id", "plotclip").append("rect")
  .attr("x", plot.left).attr("y", plot.top)
  .attr("width", plot.right - plot.left).attr("height", plot.bottom - plot.top);

const bars = svg.append("g").attr("shape-rendering", "crispEdges").attr("clip-path", "url(#plotclip)");
const layers = [
  {vals: boulders.map(() => yMax), color: seriesColors[3], frac: 0.72},
  {vals: rollingTop.slice(0, n), color: seriesColors[2], frac: 1.5},
  {vals: slidingTop.slice(0, n), color: seriesColors[1], frac: 1.04},
  {vals: stableTop.slice(0, n), color: seriesColors[0], frac: 0.76}
];
layers.forEach(L => {
  bars.append("g").selectAll("rect").data(L.vals).join("rect")
    .attr("x", (d, i) => x(boulders[i]) - step * L.frac / 2)
    .attr("width", step * L.frac)
    .attr("y", d => y(Math.min(d, yMax)))
    .attr("height", d => y(0) - y(Math.min(d, yMax)))
    .attr("fill", L.color);
});

// axes
function styleAxis(g, fs) {
  g.select(".domain").remove();
  g.selectAll("line").attr("stroke", "#222").attr("stroke-width", 1.3);
  g.selectAll("text").attr("font-family", font).attr("font-size", fs).attr("fill", "#111");
}
const fmt = d3.format("d");
const gx = svg.append("g").attr("transform", `translate(0,${plot.bottom})`)
  .call(d3.axisBottom(x).tickValues(xTickValues).tickFormat(fmt).tickSize(6).tickPadding(6).tickSizeOuter(0));
styleAxis(gx, 15);
const gxm = svg.append("g").attr("transform", `translate(0,${plot.bottom})`)
  .call(d3.axisBottom(x).tickValues(xMinorTicks).tickSize(3).tickFormat(""));
styleAxis(gxm, 15);
const gy = svg.append("g").attr("transform", `translate(${plot.left},0)`)
  .call(d3.axisLeft(y).tickValues(yTickValues).tickFormat(fmt).tickSize(5).tickPadding(4).tickSizeOuter(0));
styleAxis(gy, 15);
const gym = svg.append("g").attr("transform", `translate(${plot.left},0)`)
  .call(d3.axisLeft(y).tickValues(yMinorTicks).tickSize(3).tickFormat(""));
styleAxis(gym, 15);

// plot frame
svg.append("rect").attr("x", plot.left).attr("y", plot.top)
  .attr("width", plot.right - plot.left).attr("height", plot.bottom - plot.top)
  .attr("fill", "none").attr("stroke", "#1a1a1a").attr("stroke-width", 1.6);

// titles
svg.append("text").attr("x", (plot.left + plot.right) / 2).attr("y", 496)
  .attr("text-anchor", "middle").attr("font-family", font).attr("font-size", 20)
  .attr("fill", "#111").text("Individual coral boulder");
svg.append("text").attr("transform", `translate(51,${(plot.top + plot.bottom) / 2 - 4}) rotate(-90)`)
  .attr("text-anchor", "middle").attr("font-family", font).attr("font-size", 21)
  .attr("fill", "#111").text("Current velovity for transport (m/s)");

// legend
const leg = svg.append("g");
seriesNames.forEach((name, i) => {
  const b = legendBoxes[i];
  leg.append("rect").attr("x", b.x).attr("y", b.y).attr("width", b.w).attr("height", b.h)
    .attr("fill", "#fff").attr("stroke", "#444").attr("stroke-width", 1.2);
  leg.append("rect").attr("x", b.x + 3).attr("y", b.y + 3).attr("width", 43).attr("height", b.h - 6)
    .attr("fill", seriesColors[i]);
  leg.append("text").attr("x", b.x + 51.5).attr("y", b.y + b.h / 2 + 7)
    .attr("font-family", font).attr("font-size", 19).attr("fill", "#111").text(name);
});
</script>
</body></html>
